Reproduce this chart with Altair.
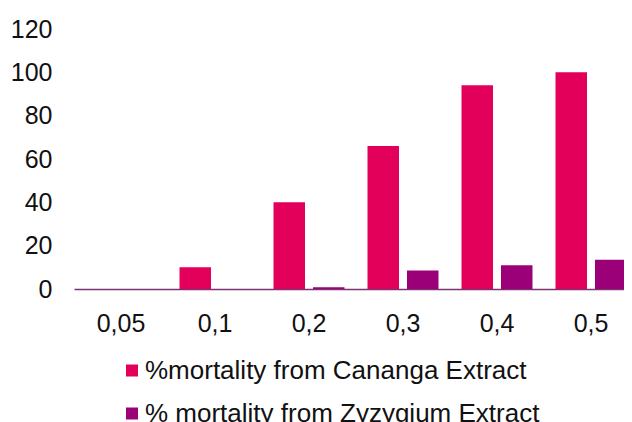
import altair as alt
import pandas as pd

doses = ["0,05", "0,1", "0,2", "0,3", "0,4", "0,5"]
series = ["%mortality from Cananga Extract", "% mortality from Zyzygium Extract"]
cananga = [0, 10, 40, 66, 94, 100]
zyzygium = [0, 0, 0.8, 8.5, 11, 13.5]
colors = ["#E3005A", "#9B0079"]

rows = []
for d, c, z in zip(doses, cananga, zyzygium):
    rows.append({"dose": d, "series": series[0], "value": c})
    rows.append({"dose": d, "series": series[1], "value": z})
df = pd.DataFrame(rows)

FONT = "Liberation Sans"

chart = alt.Chart(df).mark_bar().encode(
    x=alt.X(
        "dose:N",
        sort=doses,
        scale=alt.Scale(paddingInner=0.245, paddingOuter=0.1225),
        axis=alt.Axis(
            title=None, labelAngle=0, ticks=False, tickSize=0, labelPadding=22,
            labelFontSize=25, labelFont=FONT, labelColor="#111111",
            domainColor="#7B3270", domainWidth=1.5, grid=False,
        ),
    ),
    xOffset=alt.XOffset("series:N", sort=series, scale=alt.Scale(paddingInner=0.2025, paddingOuter=0)),
    y=alt.Y(
        "value:Q",
        scale=alt.Scale(domain=[0, 120], nice=False),
        axis=alt.Axis(
            title=None, values=[0, 20, 40, 60, 80, 100, 120], ticks=False, tickSize=0,
            domain=False, grid=False, labelPadding=22, labelFontSize=25,
            labelFont=FONT, labelColor="#111111",
        ),
    ),
    color=alt.Color(
        "series:N",
        sort=series,
        scale=alt.Scale(domain=series, range=colors),
        legend=alt.Legend(
            title=None, orient="none", legendX=45, legendY=328.5, direction="vertical",
            symbolType="square", symbolSize=144, symbolStrokeWidth=0,
            labelFontSize=26, labelFont=FONT, labelColor="#111111",
            labelOffset=0, rowPadding=17, padding=0, labelLimit=600,
        ),
    ),
).properties(
    width=564,
    height=260,
    autosize=alt.AutoSizeParams(type="none"),
    padding={"left": 66, "top": 21, "right": -14, "bottom": 133},
).configure_view(stroke=None)

chart.save("out.html", embed_options={"renderer": "svg", "actions": False})
